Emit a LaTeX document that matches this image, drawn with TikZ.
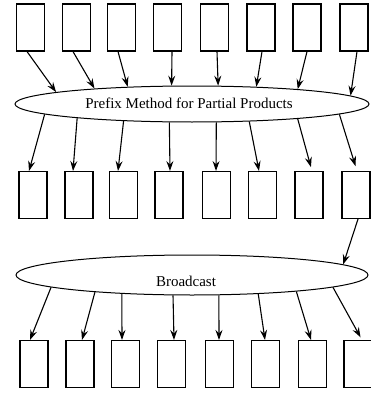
\documentclass[tikz,border=0pt]{standalone}
\usepackage{fontspec}
\setmainfont{Liberation Serif}
\usetikzlibrary{arrows.meta,shapes.geometric}
\begin{document}
\begin{tikzpicture}[x=1pt,y=-1pt,
  cell/.style={draw,line width=1.1pt,minimum width=28pt,minimum height=47pt,inner sep=0pt},
  oval/.style={draw,line width=1pt,ellipse,inner sep=0pt},
  lbl/.style={font=\fontsize{15}{17}\selectfont,inner sep=0pt},
  arr/.style={line width=1.1pt,-{Stealth[length=10pt,width=7pt,inset=3.5pt]}}]
\useasboundingbox (0,0) rectangle (370,396);
% top row
\foreach \i/\x in {1/30.5,2/76.5,3/121.5,4/167.5,5/214.5,6/261,7/307,8/354}
  \node[cell] (t\i) at (\x,27.5) {};
% middle row
\foreach \i/\x in {1/33,2/79,3/123.5,4/169,5/216.5,6/262.5,7/309,8/356}
  \node[cell] (m\i) at (\x,195) {};
% bottom row
\foreach \i/\x in {1/34,2/80,3/125.5,4/171.5,5/219.5,6/265.5,7/312.5,8/358}
  \node[cell] (b\i) at (\x,364) {};
% ellipses
\node[oval,minimum width=354pt,minimum height=36pt] (e1) at (192,104) {};
\node[lbl] (l1) at (189,103) {Prefix Method for Partial Products};
\node[oval,minimum width=352pt,minimum height=40pt] (e2) at (192,275) {};
\node[lbl] (l2) at (186,281) {Broadcast};
% top -> e1
\foreach \i/\d/\a in {1/-3.5/175.84,2/-3.5/171.79,3/-3.5/165.31,4/4.5/138.2,5/2.5/35.5,6/1/15.2,7/0/8.33,8/3/3.64}
  \draw[arr] ([xshift=\d pt]t\i.south) -- (e1.\a);
% e1 -> middle
\foreach \i/\a/\d/\s in {1/184.33/-4/0,2/187.86/-6/0,3/194.69/-5.5/0,4/219.07/1/0,5/323.4/-0.5/0,6/343.66/-3.5/0,7/352.03/3/4,8/356.44/1/5}
  \draw[arr,shorten >=\s pt] (e1.\a) -- ([xshift=\d pt]m\i.north);
% middle 8 -> e2
\draw[arr] ([xshift=2pt]m8.south) -- (e2.4.95);
% e2 -> bottom
\foreach \i/\a/\d/\s in {1/185.24/-4/0,2/190.05/2/0,3/195.96/-3.5/0,4/227.87/2.5/0,5/323.8/-0.5/0,6/344.04/-0.5/0,7/351.31/-1.5/0,8/355.63/4/3}
  \draw[arr,shorten >=\s pt] (e2.\a) -- ([xshift=\d pt]b\i.north);
\end{tikzpicture}
\end{document}
